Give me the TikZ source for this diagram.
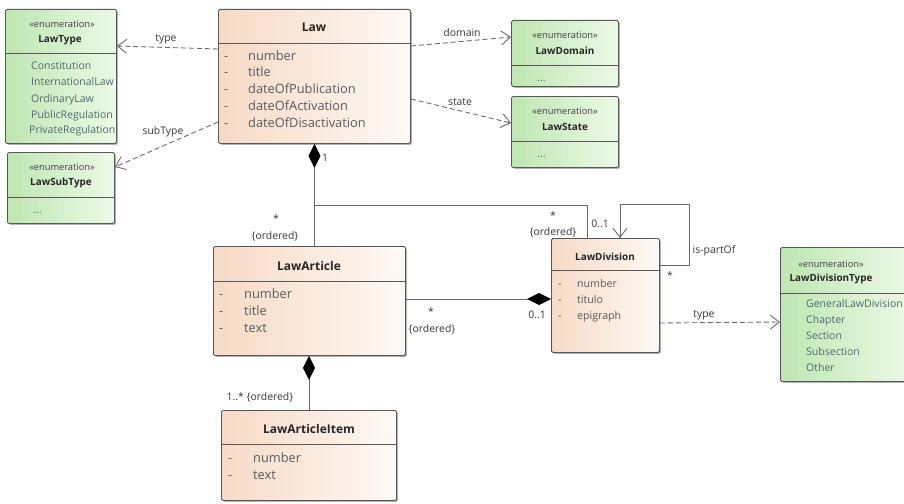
\documentclass[tikz,border=0pt]{standalone}
\usepackage{fontspec}
\setmainfont{Open Sans}
\usetikzlibrary{arrows.meta,shadows,calc}
\definecolor{grnL}{RGB}{190,230,178}
\definecolor{grnR}{RGB}{236,250,231}
\definecolor{pchL}{RGB}{247,218,198}
\definecolor{pchR}{RGB}{254,249,245}
\definecolor{bord}{RGB}{88,88,88}
\definecolor{attr}{RGB}{88,90,96}
\definecolor{enumtxt}{RGB}{78,106,108}
\definecolor{lbl}{RGB}{55,55,55}
\definecolor{conn}{RGB}{105,105,105}
\tikzset{
  box/.style={draw=bord, line width=0.9pt, rounded corners=1.5pt, anchor=north west, inner sep=0pt,
    drop shadow={shadow xshift=1.5pt, shadow yshift=-1.5pt, opacity=0.3, fill=black}},
  cls/.style={box, left color=pchL, right color=pchR},
  enm/.style={box, left color=grnL, right color=grnR},
  sep/.style={draw=bord, line width=0.8pt},
  cname/.style={font=\fontsize{12}{14}\selectfont\bfseries, text=black!85, inner sep=0pt},
  ename/.style={font=\fontsize{9.9}{12}\selectfont\bfseries, text=black!85, inner sep=0pt},
  stereo/.style={font=\fontsize{9.3}{11}\selectfont, text=black!75, inner sep=0pt},
  att/.style={font=\fontsize{12.8}{14}\selectfont, text=attr, anchor=west, inner sep=0pt, text height=1.5ex, text depth=0.3ex},
  satt/.style={font=\fontsize{10.6}{12}\selectfont, text=attr, anchor=west, inner sep=0pt, text height=1.5ex, text depth=0.3ex},
  eitem/.style={font=\fontsize{10.5}{12}\selectfont, text=enumtxt, anchor=west, inner sep=0pt, text height=1.5ex, text depth=0.3ex},
  lab/.style={font=\fontsize{10.4}{12}\selectfont, text=lbl, inner sep=0pt},
  dep/.style={draw=conn, line width=0.9pt, dash pattern=on 5pt off 3pt,
    -{Straight Barb[length=9pt,width=14pt,line width=0.9pt]}},
  assoc/.style={draw=conn, line width=0.9pt},
  comp/.style={draw=conn, line width=0.9pt, {Diamond[length=24pt,width=12pt,fill=black,color=black]}-},
}
\begin{document}
\begin{tikzpicture}[x=1pt,y=-1pt]
\useasboundingbox[fill=white] (0,0) rectangle (904,503);

% ---------- boxes ----------
\node[enm, minimum width=111pt, minimum height=134pt] (ltype) at (5,9) {};
\node[enm, minimum width=107pt, minimum height=71pt] (lsub) at (7,152) {};
\node[cls, minimum width=192pt, minimum height=134pt] (law) at (218,9) {};
\node[enm, minimum width=107pt, minimum height=66pt] (ldom) at (511,20) {};
\node[enm, minimum width=107pt, minimum height=71pt] (lstate) at (511,96) {};
\node[cls, minimum width=192pt, minimum height=109pt] (art) at (213,246) {};
\node[cls, minimum width=175pt, minimum height=90pt] (item) at (221,410) {};
\node[cls, minimum width=108pt, minimum height=114pt] (div) at (551,238) {};
\node[enm, minimum width=130pt, minimum height=134pt] (dtype) at (780,247) {};

% ---------- compartment separators ----------
\draw[sep] ([yshift=-44pt]ltype.north west) -- ([yshift=-44pt]ltype.north east);
\draw[sep] ([yshift=-45pt]lsub.north west) -- ([yshift=-45pt]lsub.north east);
\draw[sep] ([yshift=-34pt]law.north west) -- ([yshift=-34pt]law.north east);
\draw[sep] ([yshift=-45pt]ldom.north west) -- ([yshift=-45pt]ldom.north east);
\draw[sep] ([yshift=-45pt]lstate.north west) -- ([yshift=-45pt]lstate.north east);
\draw[sep] ([yshift=-35pt]art.north west) -- ([yshift=-35pt]art.north east);
\draw[sep] ([yshift=-34pt]item.north west) -- ([yshift=-34pt]item.north east);
\draw[sep] ([yshift=-32pt]div.north west) -- ([yshift=-32pt]div.north east);
\draw[sep] ([yshift=-46pt]dtype.north west) -- ([yshift=-46pt]dtype.north east);

% ---------- LawType ----------
\node[stereo] (ltS) at (62,24) {«enumeration»};
\node[ename] (ltN) at (60,40) {LawType};
\begin{scope}
\clip (5,9) rectangle (116,143);
\node[eitem] (lt1) at (31,66) {Constitution};
\node[eitem] (lt2) at (31,82) {InternationalLaw};
\node[eitem] (lt3) at (31,99) {OrdinaryLaw};
\node[eitem] (lt4) at (31,115) {PublicRegulation};
\node[eitem] (lt5) at (29,130) {PrivateRegulation};
\end{scope}

% ---------- LawSubType ----------
\node[stereo] (lsS) at (62,167) {«enumeration»};
\node[ename] (lsN) at (61,183) {LawSubType};
\node[eitem] (ls1) at (33,210) {...};

% ---------- Law ----------
\node[cname] (lawN) at (314,27) {Law};
\foreach \t/\yy [count=\i] in {number/57,title/73,dateOfPublication/90,dateOfActivation/107,dateOfDisactivation/124}{
  \node[att] (lawd\i) at (224,\yy) {-};
  \node[att] (lawa\i) at (248,\yy) {\t};
}

% ---------- LawDomain ----------
\node[stereo] (ldS) at (565,35) {«enumeration»};
\node[ename] (ldN) at (565,51) {LawDomain};
\node[eitem] (ld1) at (537,78) {...};

% ---------- LawState ----------
\node[stereo] (lsS2) at (565,111) {«enumeration»};
\node[ename] (lsN2) at (565,127) {LawState};
\node[eitem] (lst1) at (537,154) {...};

% ---------- LawArticle ----------
\node[cname] (artN) at (309,266) {LawArticle};
\foreach \t/\yy [count=\i] in {number/295,title/312,text/329}{
  \node[att] (artd\i) at (219,\yy) {-};
  \node[att] (arta\i) at (244,\yy) {\t};
}

% ---------- LawArticleItem ----------
\node[cname] (itemN) at (309,429) {LawArticleItem};
\foreach \t/\yy [count=\i] in {number/459,text/476}{
  \node[att] (itemd\i) at (228,\yy) {-};
  \node[att] (itema\i) at (253,\yy) {\t};
}

% ---------- LawDivision ----------
\node[ename] (divN) at (605,257) {LawDivision};
\foreach \t/\yy [count=\i] in {number/284,titulo/300,epigraph/316}{
  \node[satt] (divd\i) at (558,\yy) {-};
  \node[satt] (diva\i) at (577,\yy) {\t};
}

% ---------- LawDivisionType ----------
\node[stereo] (dtS) at (831,264) {«enumeration»};
\node[ename] (dtN) at (831,279) {LawDivisionType};
\foreach \t/\yy [count=\i] in {GeneralLawDivision/304,Chapter/320,Section/336,Subsection/352,Other/368}{
  \node[eitem] (dt\i) at (806,\yy) {\t};
}

% ---------- connectors ----------
\draw[dep] ([yshift=-40pt]law.north west) -- ([yshift=-37pt]ltype.north east);
\node[lab] (lType) at (166,39) {type};
\draw[dep] ([yshift=-113pt]law.north west) -- ([yshift=-15pt]lsub.north east);
\node[lab] (lSub) at (163,132) {subType};
\draw[dep] ([yshift=-37pt]law.north east) -- ([yshift=-17pt]ldom.north west);
\node[lab] (lDom) at (462,33) {domain};
\draw[dep] ([yshift=-90pt]law.north east) -- ([yshift=-27pt]lstate.north west);
\node[lab] (lSt) at (460,102) {state};

% Law composition
\coordinate (junc) at (law.south |- 0,205);
\draw[comp] (law.south) -- (law.south |- art.north);
\draw[assoc] (junc) -| ([xshift=36pt]div.north west);
\node[lab] (m1) at (325,158) {1};
\node[lab] (m2) at (276,219) {*};
\node[lab] (m3) at (275,236) {\{ordered\}};
\node[lab] (m4) at (553,216) {*};
\node[lab] (m5) at (553,232) {\{ordered\}};

% LawArticle -> LawDivision
\draw[assoc, {Diamond[length=24pt,width=12pt,fill=black,color=black]}-] ([yshift=-61pt]div.north west) -- (art.east |- 0,299);
\node[lab] (m6) at (431,312) {*};
\node[lab] (m7) at (432,329) {\{ordered\}};
\node[lab] (m8) at (537,315) {0..1};

% LawArticle -> LawArticleItem
\draw[comp] (art.south -| item.north) -- (item.north);
\node[lab] (m9) at (260,397) {1..* \{ordered\}};

% self loop
\coordinate (loopA) at ([yshift=-27pt]div.north east);
\draw[assoc, -{Straight Barb[length=9pt,width=14pt,line width=0.9pt]}]
  (loopA) -- ++(30,0) |- ([xshift=69pt,yshift=34pt]div.north west) -- ([xshift=69pt]div.north west);
\node[lab] (m10) at (600,224) {0..1};
\node[lab] (m11) at (714,251) {is-partOf};
\node[lab] (m12) at (670,276) {*};

% LawDivision -> LawDivisionType
\draw[dep] ([yshift=-85pt]div.north east) -- ([yshift=-75pt]dtype.north west);
\node[lab] (lDt) at (704,315) {type};
\end{tikzpicture}
\end{document}
